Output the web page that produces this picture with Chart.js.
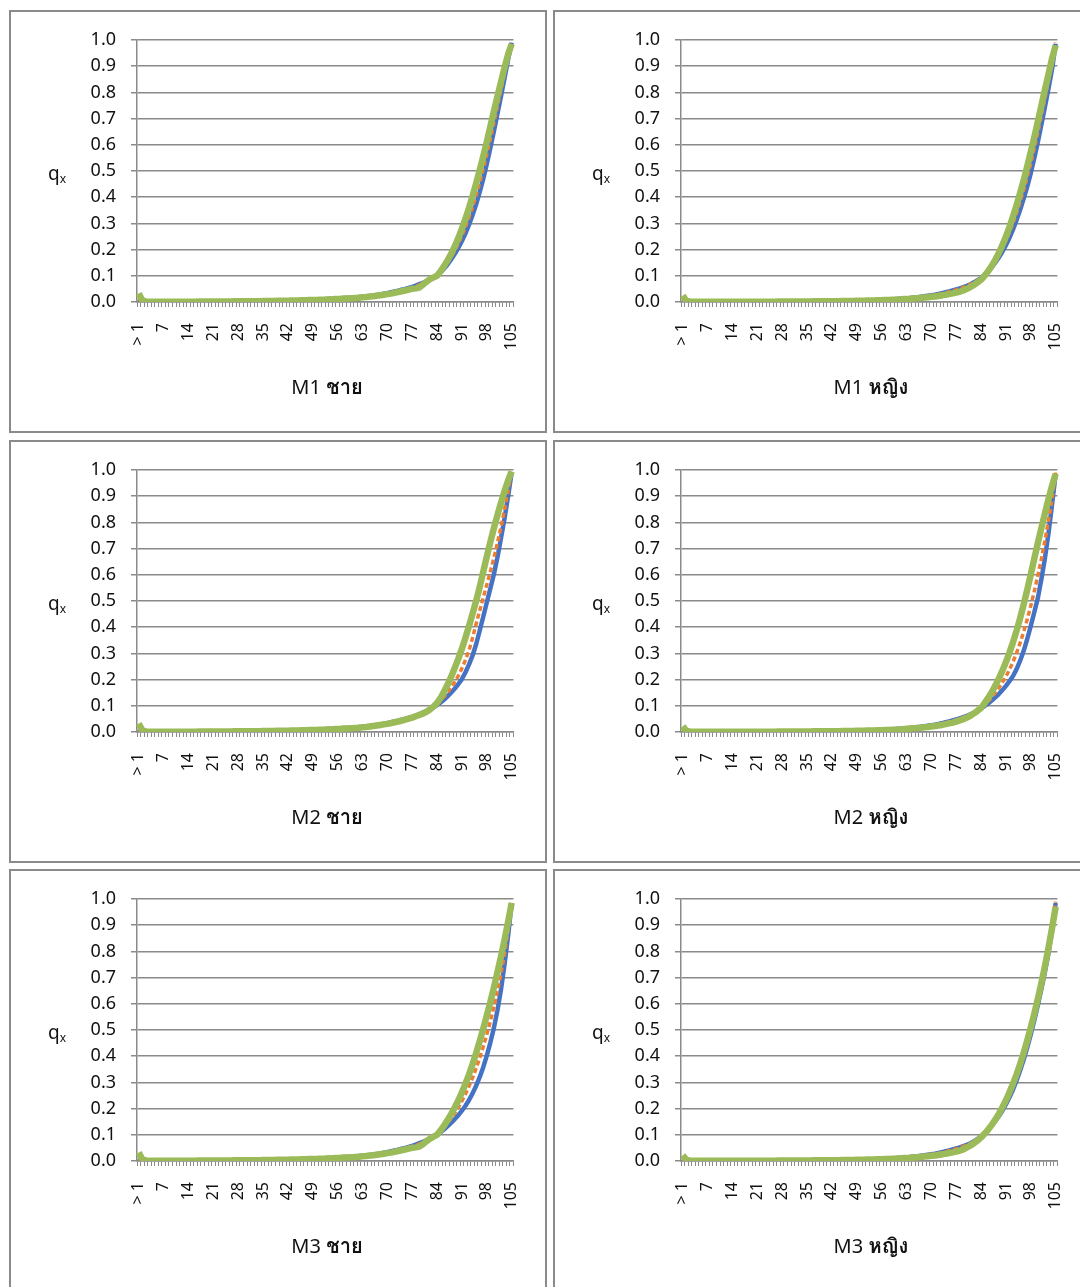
<!DOCTYPE html>
<html lang="th">
<head>
<meta charset="utf-8">
<title>q(x) by age</title>
<script src="https://cdn.jsdelivr.net/npm/chart.js@4.4.1/dist/chart.umd.min.js"></script>
<style>
  html, body { margin: 0; padding: 0; background: #fff; }
  body { width: 1080px; height: 1287px; overflow: hidden; position: relative;
         font-family: "Noto Sans", "Open Sans", "Loma", "Garuda", "Norasi", sans-serif; color: #111; }
  .panel { position: absolute; width: 538px; height: 423px; }
  .frame { position: absolute; left: 0; top: 0; right: 0; bottom: 0; border: 2px solid #8a8a8a; box-sizing: border-box; }
  .panel canvas { position: absolute; left: 0; top: 0; }
  .ylab { position: absolute; left: 39px; top: 151px; font-size: 19px; line-height: 24px; }
  .ylab sub { font-size: 12px; vertical-align: -3px; }
  .title { position: absolute; left: 118px; width: 400px; top: 363px; text-align: center; font-size: 20px; line-height: 28px; }
</style>
</head>
<body>
<div id="root"></div>
<script>
// Age groups: "> 1" followed by single years 1..105
const AGE_LABELS = ['> 1'].concat(Array.from({ length: 105 }, (_, i) => String(i + 1)));
const Y_TICKS = [0.0, 0.1, 0.2, 0.3, 0.4, 0.5, 0.6, 0.7, 0.8, 0.9, 1.0];

// ---- M1, male ----
const M1_MALE_A = [
  0.012,0.001,0.001,0.001,0.001,0.001,0.001,0.001,0.001,0.001,
  0.001,0.001,0.001,0.001,0.001,0.002,0.002,0.002,0.002,0.002,
  0.002,0.002,0.002,0.002,0.002,0.003,0.003,0.003,0.003,0.003,
  0.003,0.003,0.003,0.004,0.004,0.004,0.004,0.004,0.005,0.005,
  0.005,0.005,0.006,0.006,0.006,0.007,0.007,0.008,0.008,0.009,
  0.009,0.010,0.010,0.011,0.012,0.012,0.013,0.014,0.015,0.015,
  0.016,0.017,0.019,0.020,0.022,0.023,0.025,0.027,0.029,0.032,
  0.034,0.037,0.040,0.043,0.047,0.050,0.054,0.058,0.063,0.068,
  0.073,0.079,0.085,0.092,0.100,0.113,0.128,0.144,0.163,0.184,
  0.207,0.233,0.262,0.295,0.332,0.373,0.419,0.470,0.527,0.588,
  0.652,0.718,0.785,0.855,0.925,0.990];
const M1_MALE_B = [
  0.011,0.001,0.001,0.001,0.001,0.001,0.001,0.001,0.001,0.001,
  0.001,0.001,0.001,0.001,0.001,0.001,0.002,0.002,0.002,0.002,
  0.002,0.002,0.002,0.002,0.002,0.002,0.003,0.003,0.003,0.003,
  0.003,0.003,0.003,0.003,0.004,0.004,0.004,0.004,0.005,0.005,
  0.005,0.005,0.006,0.006,0.006,0.007,0.007,0.008,0.008,0.009,
  0.009,0.010,0.010,0.011,0.011,0.012,0.013,0.013,0.014,0.015,
  0.015,0.016,0.018,0.019,0.021,0.022,0.024,0.026,0.028,0.030,
  0.032,0.035,0.038,0.041,0.044,0.048,0.052,0.056,0.060,0.065,
  0.071,0.078,0.085,0.092,0.100,0.115,0.132,0.151,0.172,0.196,
  0.223,0.253,0.286,0.323,0.363,0.407,0.455,0.507,0.563,0.622,
  0.684,0.747,0.810,0.872,0.935,0.995];
const M1_MALE_C = [
  0.032,0.006,0.002,0.001,0.001,0.001,0.001,0.001,0.001,0.001,
  0.001,0.001,0.001,0.001,0.001,0.001,0.001,0.002,0.002,0.002,
  0.002,0.002,0.002,0.002,0.002,0.002,0.002,0.003,0.003,0.003,
  0.003,0.003,0.003,0.003,0.003,0.004,0.004,0.004,0.004,0.005,
  0.005,0.005,0.005,0.006,0.006,0.006,0.007,0.007,0.008,0.008,
  0.008,0.009,0.009,0.010,0.010,0.011,0.011,0.012,0.013,0.013,
  0.014,0.015,0.016,0.018,0.019,0.021,0.022,0.024,0.026,0.028,
  0.030,0.032,0.035,0.038,0.041,0.044,0.047,0.050,0.052,0.055,
  0.066,0.077,0.087,0.094,0.100,0.118,0.138,0.160,0.185,0.213,
  0.245,0.280,0.318,0.360,0.405,0.453,0.503,0.556,0.612,0.670,
  0.728,0.785,0.840,0.895,0.945,0.985];

// ---- M1, female ----
const M1_FEMALE_A = [
  0.010,0.001,0.001,0.001,0.001,0.001,0.001,0.001,0.001,0.001,
  0.001,0.001,0.001,0.001,0.001,0.001,0.001,0.001,0.001,0.001,
  0.001,0.001,0.001,0.001,0.001,0.001,0.002,0.002,0.002,0.002,
  0.002,0.002,0.002,0.002,0.002,0.002,0.003,0.003,0.003,0.003,
  0.003,0.003,0.003,0.004,0.004,0.004,0.004,0.005,0.005,0.005,
  0.006,0.006,0.006,0.007,0.007,0.008,0.008,0.009,0.009,0.010,
  0.011,0.012,0.013,0.014,0.015,0.017,0.018,0.020,0.022,0.024,
  0.026,0.028,0.031,0.034,0.037,0.040,0.044,0.048,0.052,0.057,
  0.062,0.068,0.075,0.083,0.092,0.104,0.117,0.132,0.150,0.170,
  0.192,0.217,0.245,0.277,0.313,0.352,0.395,0.440,0.492,0.550,
  0.612,0.678,0.746,0.816,0.890,0.985];
const M1_FEMALE_B = [
  0.009,0.001,0.001,0.001,0.001,0.001,0.001,0.001,0.001,0.001,
  0.001,0.001,0.001,0.001,0.001,0.001,0.001,0.001,0.001,0.001,
  0.001,0.001,0.001,0.001,0.001,0.001,0.002,0.002,0.002,0.002,
  0.002,0.002,0.002,0.002,0.002,0.002,0.003,0.003,0.003,0.003,
  0.003,0.003,0.003,0.003,0.004,0.004,0.004,0.005,0.005,0.005,
  0.005,0.006,0.006,0.007,0.007,0.007,0.008,0.008,0.009,0.009,
  0.010,0.011,0.012,0.013,0.014,0.016,0.017,0.019,0.021,0.023,
  0.025,0.027,0.030,0.032,0.035,0.039,0.042,0.046,0.051,0.056,
  0.061,0.068,0.075,0.082,0.090,0.103,0.118,0.135,0.155,0.178,
  0.205,0.234,0.266,0.301,0.340,0.382,0.428,0.477,0.530,0.587,
  0.648,0.712,0.778,0.846,0.915,0.990];
const M1_FEMALE_C = [
  0.025,0.004,0.002,0.001,0.001,0.001,0.001,0.001,0.001,0.001,
  0.001,0.001,0.001,0.001,0.001,0.001,0.001,0.001,0.001,0.001,
  0.001,0.001,0.001,0.001,0.001,0.001,0.001,0.002,0.002,0.002,
  0.002,0.002,0.002,0.002,0.002,0.002,0.002,0.003,0.003,0.003,
  0.003,0.003,0.003,0.003,0.003,0.004,0.004,0.004,0.004,0.005,
  0.005,0.005,0.006,0.006,0.006,0.007,0.007,0.008,0.008,0.009,
  0.009,0.010,0.011,0.011,0.012,0.013,0.014,0.015,0.017,0.018,
  0.020,0.021,0.023,0.025,0.028,0.030,0.033,0.036,0.040,0.044,
  0.050,0.057,0.065,0.075,0.085,0.100,0.118,0.138,0.161,0.187,
  0.217,0.250,0.287,0.327,0.370,0.416,0.465,0.518,0.573,0.630,
  0.690,0.750,0.812,0.870,0.930,0.980];

// ---- M2, male ----
const M2_MALE_A = [
  0.012,0.001,0.001,0.001,0.001,0.001,0.001,0.001,0.001,0.001,
  0.001,0.001,0.001,0.001,0.001,0.002,0.002,0.002,0.002,0.002,
  0.002,0.002,0.002,0.002,0.002,0.003,0.003,0.003,0.003,0.003,
  0.003,0.003,0.003,0.004,0.004,0.004,0.004,0.004,0.005,0.005,
  0.005,0.005,0.006,0.006,0.006,0.007,0.007,0.008,0.008,0.009,
  0.009,0.010,0.010,0.011,0.012,0.012,0.013,0.014,0.015,0.015,
  0.016,0.017,0.019,0.020,0.022,0.023,0.025,0.027,0.029,0.032,
  0.034,0.037,0.040,0.043,0.047,0.050,0.054,0.058,0.063,0.068,
  0.074,0.080,0.087,0.094,0.103,0.113,0.124,0.137,0.151,0.166,
  0.183,0.202,0.228,0.258,0.292,0.335,0.387,0.440,0.494,0.548,
  0.602,0.667,0.740,0.815,0.900,0.990];
const M2_MALE_B = [
  0.011,0.001,0.001,0.001,0.001,0.001,0.001,0.001,0.001,0.001,
  0.001,0.001,0.001,0.001,0.001,0.001,0.002,0.002,0.002,0.002,
  0.002,0.002,0.002,0.002,0.002,0.002,0.003,0.003,0.003,0.003,
  0.003,0.003,0.003,0.003,0.004,0.004,0.004,0.004,0.005,0.005,
  0.005,0.005,0.006,0.006,0.006,0.007,0.007,0.008,0.008,0.009,
  0.009,0.010,0.010,0.011,0.011,0.012,0.013,0.013,0.014,0.015,
  0.015,0.016,0.018,0.019,0.021,0.022,0.024,0.026,0.028,0.030,
  0.032,0.035,0.038,0.041,0.044,0.048,0.052,0.056,0.060,0.065,
  0.072,0.079,0.087,0.095,0.104,0.119,0.135,0.152,0.171,0.192,
  0.215,0.243,0.275,0.312,0.360,0.412,0.463,0.513,0.562,0.612,
  0.665,0.722,0.783,0.850,0.920,0.995];
const M2_MALE_C = [
  0.032,0.006,0.002,0.001,0.001,0.001,0.001,0.001,0.001,0.001,
  0.001,0.001,0.001,0.001,0.001,0.001,0.001,0.002,0.002,0.002,
  0.002,0.002,0.002,0.002,0.002,0.002,0.002,0.003,0.003,0.003,
  0.003,0.003,0.003,0.003,0.003,0.004,0.004,0.004,0.004,0.005,
  0.005,0.005,0.005,0.006,0.006,0.006,0.007,0.007,0.008,0.008,
  0.008,0.009,0.009,0.010,0.010,0.011,0.011,0.012,0.013,0.013,
  0.014,0.015,0.016,0.018,0.019,0.021,0.023,0.025,0.027,0.029,
  0.031,0.034,0.037,0.040,0.043,0.047,0.051,0.055,0.060,0.065,
  0.070,0.077,0.086,0.097,0.111,0.130,0.155,0.182,0.212,0.245,
  0.280,0.318,0.360,0.405,0.452,0.500,0.553,0.612,0.670,0.725,
  0.778,0.828,0.875,0.920,0.960,0.995];

// ---- M2, female ----
const M2_FEMALE_A = [
  0.010,0.001,0.001,0.001,0.001,0.001,0.001,0.001,0.001,0.001,
  0.001,0.001,0.001,0.001,0.001,0.001,0.001,0.001,0.001,0.001,
  0.001,0.001,0.001,0.001,0.001,0.001,0.002,0.002,0.002,0.002,
  0.002,0.002,0.002,0.002,0.002,0.002,0.003,0.003,0.003,0.003,
  0.003,0.003,0.003,0.004,0.004,0.004,0.004,0.005,0.005,0.005,
  0.006,0.006,0.006,0.007,0.007,0.008,0.008,0.009,0.009,0.010,
  0.011,0.012,0.013,0.014,0.015,0.017,0.018,0.020,0.022,0.024,
  0.026,0.028,0.031,0.034,0.037,0.040,0.044,0.048,0.052,0.057,
  0.062,0.068,0.074,0.082,0.090,0.099,0.109,0.120,0.132,0.145,
  0.160,0.176,0.194,0.214,0.240,0.272,0.310,0.355,0.405,0.458,
  0.512,0.585,0.665,0.760,0.870,0.985];
const M2_FEMALE_B = [
  0.009,0.001,0.001,0.001,0.001,0.001,0.001,0.001,0.001,0.001,
  0.001,0.001,0.001,0.001,0.001,0.001,0.001,0.001,0.001,0.001,
  0.001,0.001,0.001,0.001,0.001,0.001,0.002,0.002,0.002,0.002,
  0.002,0.002,0.002,0.002,0.002,0.002,0.003,0.003,0.003,0.003,
  0.003,0.003,0.003,0.003,0.004,0.004,0.004,0.005,0.005,0.005,
  0.005,0.006,0.006,0.007,0.007,0.007,0.008,0.008,0.009,0.009,
  0.010,0.011,0.012,0.013,0.014,0.016,0.017,0.019,0.021,0.023,
  0.025,0.027,0.030,0.032,0.035,0.039,0.042,0.046,0.051,0.056,
  0.061,0.067,0.074,0.082,0.091,0.103,0.117,0.132,0.149,0.168,
  0.189,0.212,0.238,0.268,0.302,0.340,0.383,0.430,0.482,0.538,
  0.598,0.662,0.732,0.808,0.890,0.990];
const M2_FEMALE_C = [
  0.022,0.004,0.002,0.001,0.001,0.001,0.001,0.001,0.001,0.001,
  0.001,0.001,0.001,0.001,0.001,0.001,0.001,0.001,0.001,0.001,
  0.001,0.001,0.001,0.001,0.001,0.001,0.001,0.002,0.002,0.002,
  0.002,0.002,0.002,0.002,0.002,0.002,0.002,0.003,0.003,0.003,
  0.003,0.003,0.003,0.003,0.003,0.004,0.004,0.004,0.004,0.005,
  0.005,0.005,0.006,0.006,0.006,0.007,0.007,0.008,0.008,0.009,
  0.009,0.010,0.011,0.012,0.013,0.014,0.015,0.016,0.018,0.019,
  0.021,0.023,0.025,0.027,0.030,0.033,0.036,0.040,0.044,0.049,
  0.055,0.062,0.071,0.081,0.092,0.110,0.130,0.152,0.177,0.204,
  0.234,0.267,0.303,0.343,0.387,0.435,0.487,0.543,0.602,0.662,
  0.722,0.780,0.836,0.890,0.940,0.985];

// ---- M3, male ----
const M3_MALE_A = [
  0.012,0.001,0.001,0.001,0.001,0.001,0.001,0.001,0.001,0.001,
  0.001,0.001,0.001,0.001,0.001,0.002,0.002,0.002,0.002,0.002,
  0.002,0.002,0.002,0.002,0.002,0.003,0.003,0.003,0.003,0.003,
  0.003,0.003,0.003,0.004,0.004,0.004,0.004,0.004,0.005,0.005,
  0.005,0.005,0.006,0.006,0.006,0.007,0.007,0.008,0.008,0.009,
  0.009,0.010,0.010,0.011,0.012,0.012,0.013,0.014,0.015,0.015,
  0.016,0.017,0.019,0.020,0.022,0.023,0.025,0.027,0.029,0.032,
  0.034,0.037,0.040,0.043,0.047,0.050,0.054,0.058,0.063,0.068,
  0.073,0.079,0.085,0.092,0.100,0.110,0.121,0.133,0.146,0.160,
  0.175,0.192,0.211,0.233,0.258,0.287,0.320,0.358,0.402,0.452,
  0.508,0.575,0.655,0.750,0.860,0.985];
const M3_MALE_B = [
  0.011,0.001,0.001,0.001,0.001,0.001,0.001,0.001,0.001,0.001,
  0.001,0.001,0.001,0.001,0.001,0.001,0.002,0.002,0.002,0.002,
  0.002,0.002,0.002,0.002,0.002,0.002,0.003,0.003,0.003,0.003,
  0.003,0.003,0.003,0.003,0.004,0.004,0.004,0.004,0.005,0.005,
  0.005,0.005,0.006,0.006,0.006,0.007,0.007,0.008,0.008,0.009,
  0.009,0.010,0.010,0.011,0.011,0.012,0.013,0.013,0.014,0.015,
  0.015,0.016,0.018,0.019,0.021,0.022,0.024,0.026,0.028,0.030,
  0.032,0.035,0.038,0.041,0.044,0.048,0.052,0.056,0.060,0.065,
  0.071,0.078,0.085,0.092,0.100,0.113,0.128,0.145,0.163,0.183,
  0.205,0.229,0.256,0.286,0.318,0.354,0.393,0.436,0.483,0.533,
  0.588,0.648,0.715,0.790,0.880,0.990];
const M3_MALE_C = [
  0.032,0.006,0.002,0.001,0.001,0.001,0.001,0.001,0.001,0.001,
  0.001,0.001,0.001,0.001,0.001,0.001,0.001,0.002,0.002,0.002,
  0.002,0.002,0.002,0.002,0.002,0.002,0.002,0.003,0.003,0.003,
  0.003,0.003,0.003,0.003,0.003,0.004,0.004,0.004,0.004,0.005,
  0.005,0.005,0.005,0.006,0.006,0.006,0.007,0.007,0.008,0.008,
  0.008,0.009,0.009,0.010,0.010,0.011,0.011,0.012,0.013,0.013,
  0.014,0.015,0.016,0.018,0.019,0.021,0.022,0.024,0.026,0.028,
  0.030,0.032,0.035,0.038,0.041,0.044,0.047,0.050,0.052,0.055,
  0.064,0.075,0.085,0.093,0.100,0.117,0.136,0.157,0.180,0.205,
  0.232,0.262,0.295,0.331,0.370,0.412,0.457,0.505,0.555,0.607,
  0.662,0.720,0.781,0.845,0.913,0.985];

// ---- M3, female ----
const M3_FEMALE_A = [
  0.010,0.001,0.001,0.001,0.001,0.001,0.001,0.001,0.001,0.001,
  0.001,0.001,0.001,0.001,0.001,0.001,0.001,0.001,0.001,0.001,
  0.001,0.001,0.001,0.001,0.001,0.001,0.002,0.002,0.002,0.002,
  0.002,0.002,0.002,0.002,0.002,0.002,0.003,0.003,0.003,0.003,
  0.003,0.003,0.003,0.004,0.004,0.004,0.004,0.005,0.005,0.005,
  0.006,0.006,0.006,0.007,0.007,0.008,0.008,0.009,0.009,0.010,
  0.011,0.012,0.013,0.014,0.015,0.017,0.018,0.020,0.022,0.024,
  0.026,0.028,0.031,0.034,0.037,0.040,0.044,0.048,0.052,0.057,
  0.062,0.068,0.075,0.084,0.095,0.107,0.120,0.135,0.152,0.171,
  0.192,0.216,0.243,0.273,0.307,0.345,0.387,0.433,0.483,0.537,
  0.595,0.657,0.723,0.795,0.880,0.985];
const M3_FEMALE_B = [
  0.009,0.001,0.001,0.001,0.001,0.001,0.001,0.001,0.001,0.001,
  0.001,0.001,0.001,0.001,0.001,0.001,0.001,0.001,0.001,0.001,
  0.001,0.001,0.001,0.001,0.001,0.001,0.002,0.002,0.002,0.002,
  0.002,0.002,0.002,0.002,0.002,0.002,0.003,0.003,0.003,0.003,
  0.003,0.003,0.003,0.003,0.004,0.004,0.004,0.005,0.005,0.005,
  0.005,0.006,0.006,0.007,0.007,0.007,0.008,0.008,0.009,0.009,
  0.010,0.011,0.012,0.013,0.014,0.016,0.017,0.019,0.021,0.023,
  0.025,0.027,0.030,0.032,0.035,0.039,0.042,0.046,0.051,0.056,
  0.061,0.067,0.074,0.083,0.093,0.106,0.120,0.136,0.155,0.175,
  0.198,0.223,0.252,0.283,0.318,0.357,0.400,0.446,0.496,0.550,
  0.608,0.670,0.736,0.808,0.890,0.990];
const M3_FEMALE_C = [
  0.022,0.004,0.002,0.001,0.001,0.001,0.001,0.001,0.001,0.001,
  0.001,0.001,0.001,0.001,0.001,0.001,0.001,0.001,0.001,0.001,
  0.001,0.001,0.001,0.001,0.001,0.001,0.001,0.002,0.002,0.002,
  0.002,0.002,0.002,0.002,0.002,0.002,0.002,0.003,0.003,0.003,
  0.003,0.003,0.003,0.003,0.003,0.004,0.004,0.004,0.004,0.005,
  0.005,0.005,0.006,0.006,0.006,0.007,0.007,0.008,0.008,0.009,
  0.009,0.010,0.011,0.011,0.012,0.013,0.014,0.015,0.017,0.018,
  0.020,0.021,0.023,0.025,0.028,0.030,0.033,0.036,0.040,0.044,
  0.052,0.059,0.068,0.078,0.090,0.104,0.120,0.138,0.158,0.180,
  0.205,0.232,0.262,0.295,0.331,0.370,0.413,0.460,0.510,0.563,
  0.620,0.680,0.745,0.815,0.890,0.970];

// Grid of panels: model row, sex column
const PANEL_MODELS = ['M1', 'M1', 'M2', 'M2', 'M3', 'M3'];
const PANEL_SEXES = ['ชาย', 'หญิง', 'ชาย', 'หญิง', 'ชาย', 'หญิง'];
const PANEL_LEFT = [9, 553, 9, 553, 9, 553];
const PANEL_TOP = [10, 10, 440, 440, 869, 869];
const PANEL_SERIES = [
  [M1_MALE_A, M1_MALE_B, M1_MALE_C],
  [M1_FEMALE_A, M1_FEMALE_B, M1_FEMALE_C],
  [M2_MALE_A, M2_MALE_B, M2_MALE_C],
  [M2_FEMALE_A, M2_FEMALE_B, M2_FEMALE_C],
  [M3_MALE_A, M3_MALE_B, M3_MALE_C],
  [M3_FEMALE_A, M3_FEMALE_B, M3_FEMALE_C]
];

const FONT = '"Noto Sans", "Open Sans", sans-serif';
const AXIS_GREY = '#8a8a8a';
Chart.defaults.font.family = FONT;
Chart.defaults.color = '#111';

const root = document.getElementById('root');

PANEL_SERIES.forEach((series, p) => {
  const panel = document.createElement('div');
  panel.className = 'panel';
  panel.style.left = PANEL_LEFT[p] + 'px';
  panel.style.top = PANEL_TOP[p] + 'px';

  const frame = document.createElement('div');
  frame.className = 'frame';
  panel.appendChild(frame);

  const canvas = document.createElement('canvas');
  canvas.width = 538;
  canvas.height = 423;
  panel.appendChild(canvas);

  const ylab = document.createElement('div');
  ylab.className = 'ylab';
  ylab.innerHTML = 'q<sub>x</sub>';
  panel.appendChild(ylab);

  const title = document.createElement('div');
  title.className = 'title';
  title.innerHTML = PANEL_MODELS[p] + ' <b>' + PANEL_SEXES[p] + '</b>';
  panel.appendChild(title);

  root.appendChild(panel);

  new Chart(canvas.getContext('2d'), {
    type: 'line',
    data: {
      labels: AGE_LABELS,
      datasets: [
        { data: series[2], borderColor: '#9BBB59', borderWidth: 6.5, order: 0 },
        { data: series[1], borderColor: '#ED7D31', borderWidth: 3.5, borderDash: [5, 3], order: 1 },
        { data: series[0], borderColor: '#4472C4', borderWidth: 4.5, order: 2 }
      ]
    },
    options: {
      responsive: false,
      animation: false,
      layout: { padding: { top: 30, right: 30, left: 0, bottom: 0 } },
      plugins: { legend: { display: false }, tooltip: { enabled: false } },
      elements: {
        point: { radius: 0 },
        line: { tension: 0, fill: false, borderCapStyle: 'butt', borderJoinStyle: 'round' }
      },
      scales: {
        x: {
          type: 'category',
          offset: true,
          grid: { offset: true, drawOnChartArea: false, drawTicks: true, tickLength: 5, color: AXIS_GREY, lineWidth: 1 },
          border: { color: AXIS_GREY, width: 1.5 },
          ticks: {
            autoSkip: false, maxRotation: 90, minRotation: 90, padding: 16,
            font: { size: 16 }, color: '#111',
            callback: function (value, index) { return index % 7 === 0 ? AGE_LABELS[index] : ''; }
          },
          afterFit: (scale) => { scale.height = 131; }
        },
        y: {
          min: 0, max: 1,
          afterBuildTicks: (scale) => { scale.ticks = Y_TICKS.map(v => ({ value: v })); },
          ticks: { padding: 15, font: { size: 18 }, color: '#111', callback: (v) => Number(v).toFixed(1) },
          grid: { color: AXIS_GREY, lineWidth: 1.5, tickLength: 6 },
          border: { color: AXIS_GREY, width: 1.5 },
          afterFit: (scale) => { scale.width = 128; }
        }
      }
    }
  });
});
</script>
</body>
</html>
